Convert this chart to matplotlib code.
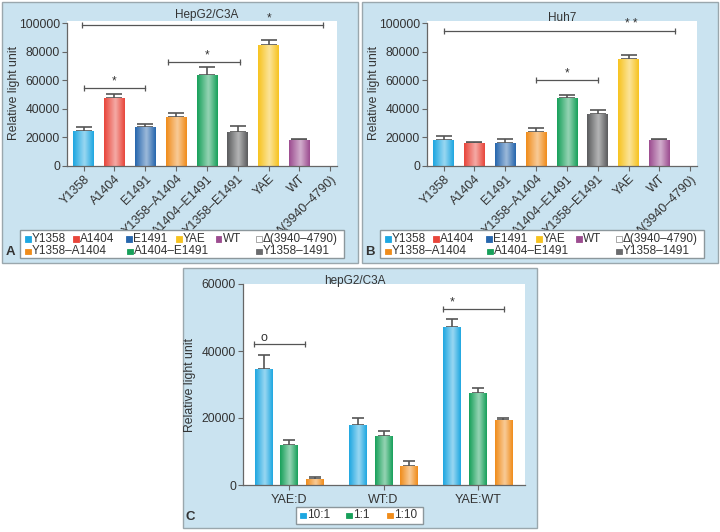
"""Luciferase activity panels A/B (HepG2/C3A, Huh7) and C (mixing ratios)."""
import matplotlib
matplotlib.use("Agg")
import matplotlib.pyplot as plt
import numpy as np
from matplotlib.colors import LinearSegmentedColormap, to_rgb
from matplotlib.patches import Rectangle

plt.rcParams['font.family'] = ['Liberation Sans', 'DejaVu Sans']

W, H = 720, 532
BG = "#cae3f0"
EDGE = "#9aa7ad"
TXT = "#333333"
AXC = "#666666"

# ---- data: panels A and B ------------------------------------------------ #
constructs = ["Y1358", "A1404", "E1491", "Y1358–A1404", "A1404–E1491",
              "Y1358–E1491", "YAE", "WT", "Δ(3940–4790)"]
hep_vals = [24600, 47800, 27400, 34000, 63900, 23700, 84500, 18300, 0]
hep_err = [2600, 2300, 2300, 3200, 5400, 4200, 3600, 900, 0]
huh_vals = [18500, 16200, 16200, 24100, 47300, 36500, 74500, 18500, 0]
huh_err = [2800, 700, 3000, 2600, 2100, 2600, 3200, 700, 0]
bar_colors = ["#1ea7e1", "#e8453a", "#2666ad", "#f08c1a", "#17a05a",
              "#5a5b5d", "#f7c31f", "#9c4c90", "#ffffff"]

legend_row1 = ["Y1358", "A1404", "E1491", "YAE", "WT", "Δ(3940–4790)"]
legend_row1_colors = ["#1ea7e1", "#e8453a", "#2666ad", "#f7c31f", "#9c4c90", "#ffffff"]
legend_row2 = ["Y1358–A1404", "A1404–E1491", "Y1358–1491"]
legend_row2_colors = ["#f08c1a", "#17a05a", "#6a6b6d"]

# significance brackets: (x start, x end, height, label, label x)
hep_sig = [(0, 2, 54800, "*", 1), (2.75, 5.08, 72600, "*", 4),
           (-0.05, 7.78, 98800, "*", 6)]
huh_sig = [(0, 7.5, 94600, "* *", 6.1), (3, 5, 60200, "*", 4)]

# ---- data: panel C ------------------------------------------------------- #
mix_groups = ["YAE:D", "WT:D", "YAE:WT"]
ratios = ["10:1", "1:1", "1:10"]
ratio_colors = ["#1ea7e1", "#17a05a", "#f08c1a"]
r10_1 = [34700, 17800, 47100]
r10_1_err = [4000, 2200, 2600]
r1_1 = [11900, 14700, 27400]
r1_1_err = [1500, 1500, 1700]
r1_10 = [1800, 5800, 19400]
r1_10_err = [500, 1400, 700]
mix_sig = [(-0.37, 0.17, 42000, "o", -0.27), (1.63, 2.28, 52500, "*", 1.725)]


def fx(px):
    return px / W


def fy(py):
    return 1 - py / H


def panel_box(fig, x0, y0, x1, y1, fc=BG, ec=EDGE, z=-5):
    fig.add_artist(Rectangle((fx(x0), fy(y1)), (x1 - x0) / W, (y1 - y0) / H,
                             transform=fig.transFigure, facecolor=fc,
                             edgecolor=ec, lw=1, zorder=z))


def grad_bars(ax, x, vals, errs, colors, width, cap=5.5):
    bars = ax.bar(x, vals, width, color=colors, zorder=2)
    g = np.linspace(0, 1, 64)[None, :]
    for b, c in zip(bars, colors):
        if b.get_height() <= 0:
            continue
        base = np.array(to_rgb(c))
        light = base + (1 - base) * 0.55
        cmap = LinearSegmentedColormap.from_list("g", [(0, base), (0.55, light), (1, base)])
        im = ax.imshow(g, cmap=cmap, aspect="auto", interpolation="bicubic", zorder=2.1,
                       extent=[b.get_x(), b.get_x() + b.get_width(), 0, b.get_height()])
        im.set_clip_path(b)
    x = np.asarray(x, float)
    vals = np.asarray(vals, float)
    errs = np.asarray(errs, float)
    m = errs > 0
    ax.errorbar(x[m], vals[m], yerr=[np.zeros(m.sum()), errs[m]], fmt="none",
                ecolor="#555555", elinewidth=1.2, capsize=cap, capthick=1.2, zorder=1.5)


def brackets(ax, sig, fs=8.5):
    for x0, x1, y, lab, xl in sig:
        ax.plot([x0, x1], [y, y], color="#555555", lw=0.9, marker="|",
                markersize=5, mew=0.9, zorder=3, clip_on=False)
        ax.annotate(lab, (xl, y), xytext=(0, 0.5), textcoords="offset points",
                    ha="center", va="bottom", fontsize=fs, color=TXT, annotation_clip=False)


def style_axes(ax):
    for s in ("top", "right"):
        ax.spines[s].set_visible(False)
    for s in ("left", "bottom"):
        ax.spines[s].set_color(AXC)
        ax.spines[s].set_linewidth(0.9)
    ax.tick_params(direction="out", length=3.5, width=0.8, color=AXC,
                   labelcolor=TXT, labelsize=9, pad=1.5)
    ax.tick_params(axis="y", labelsize=8.7)
    ax.set_facecolor("white")


def manual_legend(fig, box, rows):
    x0, y0, x1, y1 = box
    panel_box(fig, x0, y0, x1, y1, fc="white", ec="#8c979c", z=1)
    for items in rows:
        for lab, col, px, py in items:
            fig.add_artist(Rectangle((fx(px), fy(py + 2.8)), 5.5 / W, 5.5 / H,
                                     transform=fig.transFigure, facecolor=col,
                                     edgecolor="#999999" if col == "#ffffff" else col,
                                     lw=0.6, zorder=2))
            fig.text(fx(px + 7), fy(py), lab, ha="left", va="center",
                     fontsize=8.5, color=TXT, zorder=3)


fig = plt.figure(figsize=(7.2, 5.32), dpi=100)

# ---- panels A and B ------------------------------------------------------ #
row1_x = [25, 73, 126, 176, 216, 256]
row2_x = [25, 127, 256]
for off, title, title_x, title_y, vals, errs, sig, lab in [
        (0, "HepG2/C3A", 207, 15, hep_vals, hep_err, hep_sig, "A"),
        (360, "Huh7", 562, 18, huh_vals, huh_err, huh_sig, "B")]:
    panel_box(fig, off + 2, 2, off + 358, 263)
    ax = fig.add_axes([fx(off + 67), fy(166), 270 / W, (166 - 21) / H])
    style_axes(ax)
    x = np.arange(len(constructs))
    grad_bars(ax, x, vals, errs, bar_colors, 0.67)
    brackets(ax, sig)
    ax.set_xlim(-0.54, 8.22)
    ax.set_ylim(0, 101400)
    ax.spines["left"].set_bounds(0, 100000)
    ax.set_yticks(np.arange(0, 100001, 20000))
    ax.set_xticks(x)
    ax.set_xticklabels(constructs, rotation=45, ha="right", rotation_mode="anchor")
    ax.set_ylabel("Relative light unit", fontsize=8.8, color=TXT)
    ax.yaxis.set_label_coords((20 - 67) / 270, 0.5)
    fig.text(fx(title_x), fy(title_y), title, ha="center", va="center",
             fontsize=8.5, color=TXT)
    fig.text(fx(off + 10), fy(252), lab, ha="center", va="center",
             fontsize=9.5, fontweight="bold", color=TXT)
    rows = [[(l, c, off + px, 239) for l, c, px in zip(legend_row1, legend_row1_colors, row1_x)],
            [(l, c, off + px, 251.5) for l, c, px in zip(legend_row2, legend_row2_colors, row2_x)]]
    manual_legend(fig, (off + 20, 230, off + 344, 258), rows)

# ---- panel C --------------------------------------------------------------- #
panel_box(fig, 183, 268, 537, 528)
axc = fig.add_axes([fx(243), fy(485), (525 - 243) / W, (485 - 284) / H])
style_axes(axc)
gx = np.arange(len(mix_groups))
for k, (v, e, c) in enumerate(zip([r10_1, r1_1, r1_10], [r10_1_err, r1_1_err, r1_10_err],
                                  ratio_colors)):
    grad_bars(axc, gx + (k - 1) * 0.272, v, e, [c] * len(v), 0.19, cap=4.5)
brackets(axc, mix_sig, fs=9)
axc.set_xlim(-0.49, 2.5)
axc.set_ylim(0, 60000)
axc.set_yticks([0, 20000, 40000, 60000])
axc.set_xticks(gx)
axc.set_xticklabels(mix_groups)
axc.tick_params(axis="x", pad=3)
axc.set_ylabel("Relative light unit", fontsize=8.8, color=TXT)
axc.yaxis.set_label_coords((196 - 243) / 282, 0.5)
fig.text(fx(355), fy(281), "hepG2/C3A", ha="center", va="center", fontsize=8.5, color=TXT)
fig.text(fx(190), fy(517), "C", ha="center", va="center", fontsize=9.5,
         fontweight="bold", color=TXT)
manual_legend(fig, (296, 507, 423, 524),
              [[(l, c, px, 515.5) for l, c, px in zip(ratios, ratio_colors, [300, 346, 387])]])

fig.savefig("out.png", dpi=100)
